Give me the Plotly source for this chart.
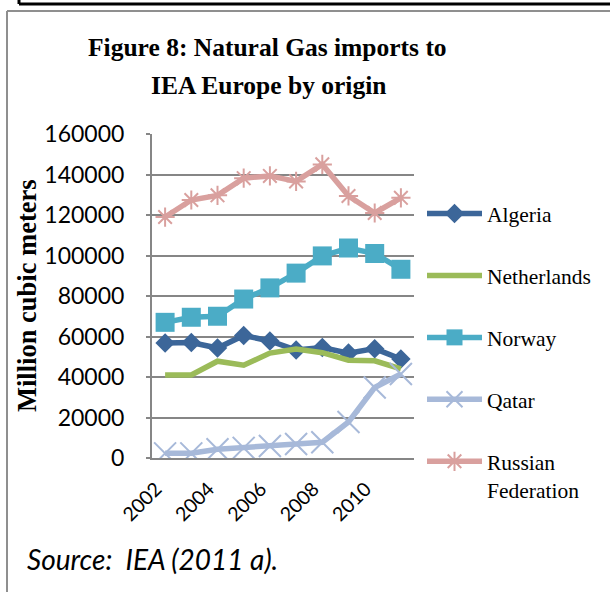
import plotly.graph_objects as go

years = [2002, 2003, 2004, 2005, 2006, 2007, 2008, 2009, 2010, 2011]
tick_years = [2002, 2004, 2006, 2008, 2010]
y_ticks = [0, 20000, 40000, 60000, 80000, 100000, 120000, 140000, 160000]

algeria = [56800, 57000, 54300, 60500, 57800, 53300, 54600, 51800, 54000, 48900]
netherlands = [41000, 41000, 47800, 45800, 51800, 53800, 52000, 48300, 48000, 44000]
norway = [67000, 69500, 70000, 78500, 84000, 91300, 99800, 103700, 101000, 93200]
qatar = [2300, 2300, 4300, 5000, 5900, 6900, 7800, 17800, 34800, 41500]
russia = [119000, 127400, 129700, 138200, 139300, 136600, 145000, 129400, 121000, 128500]

W, H = 610, 592
# plot area in screen pixels
L, R, T, B = 152, 414, 134, 458


def px(x):
    return (x - L) / (R - L)


def py(y):
    return (B - y) / (B - T)


fig = go.Figure()

series = [
    ("Algeria", algeria, "#3C6699", dict(symbol="diamond", size=15, color="#3C6699"), "lines+markers"),
    ("Netherlands", netherlands, "#9BBB59", None, "lines"),
    ("Norway", norway, "#4BACC6", dict(symbol="square", size=19, color="#4BACC6"), "lines+markers"),
    ("Qatar", qatar, "#A7B9D9", dict(symbol="x-thin-open", size=22, color="#A7B9D9",
                                     line=dict(width=2, color="#A7B9D9")), "lines+markers"),
    ("Russian<br>Federation", russia, "#D9A09E", dict(symbol="asterisk-open", size=16, color="#D9A09E",
                                                      line=dict(width=2, color="#D9A09E")), "lines+markers"),
]

for name, vals, col, mk, mode in series:
    kw = dict(x=years, y=vals, name=name, mode=mode, legendgroup=name,
              line=dict(color=col, width=5.5))
    if mk is not None:
        kw["marker"] = mk
    fig.add_trace(go.Scatter(**kw))

axis_col = "#868686"

fig.update_layout(
    width=W, height=H,
    margin=dict(l=L, r=W - R, t=T, b=H - B, pad=0),
    paper_bgcolor="white", plot_bgcolor="white",
    showlegend=True,
    legend=dict(
        x=px(422), y=py(193), xanchor="left", yanchor="top",
        font=dict(family="Liberation Serif", size=21.5, color="black"),
        tracegroupgap=31, valign="top", itemwidth=55,
        bgcolor="rgba(0,0,0,0)", maxheight=500,
    ),
    xaxis=dict(
        range=[2001.5, 2011.5], tickvals=tick_years, ticktext=[str(t) for t in tick_years],
        tickangle=-45, showgrid=False, zeroline=False,
        showline=True, linecolor=axis_col, linewidth=2,
        ticks="", tickfont=dict(family="Lato", size=19.5, color="black"),
        ticklabelstandoff=10, ticklabelshift=-9,
    ),
    yaxis=dict(
        range=[0, 160000], tickvals=y_ticks, tickformat="d",
        showgrid=True, gridcolor=axis_col, gridwidth=1.5, zeroline=False,
        showline=True, linecolor=axis_col, linewidth=2,
        ticks="outside", ticklen=4, tickcolor=axis_col, tickwidth=1.5,
        tickfont=dict(family="Lato", size=23, color="black"),
        ticklabelstandoff=17,
    ),
    annotations=[
        dict(text="<b>Figure 8: Natural Gas imports to</b>", x=px(267), y=py(48), xref="paper", yref="paper",
             xanchor="center", yanchor="middle", showarrow=False,
             font=dict(family="Liberation Serif", size=25.5, color="black")),
        dict(text="<b>IEA Europe by origin</b>", x=px(268), y=py(85), xref="paper", yref="paper",
             xanchor="center", yanchor="middle", showarrow=False,
             font=dict(family="Liberation Serif", size=25.5, color="black")),
        dict(text="<b>Million cubic meters</b>", x=px(27), y=py(296), xref="paper", yref="paper",
             xanchor="center", yanchor="middle", showarrow=False, textangle=-90,
             font=dict(family="Liberation Serif", size=26.5, color="black")),
        dict(text="<i>Source:\u00a0 IEA (2011 a).</i>", x=px(25), y=py(559), xref="paper", yref="paper",
             xanchor="left", yanchor="middle", showarrow=False,
             font=dict(family="Lato", size=28, color="black")),
    ],
    shapes=[
        # outer gray chart border (left and top)
        dict(type="line", xref="paper", yref="paper", x0=px(7), x1=px(7), y0=py(11), y1=py(600),
             line=dict(color="#8F8F8F", width=2)),
        dict(type="line", xref="paper", yref="paper", x0=px(7), x1=px(620), y0=py(11), y1=py(11),
             line=dict(color="#8F8F8F", width=2)),
        # black frame bottom from box above
        dict(type="line", xref="paper", yref="paper", x0=px(19), x1=px(620), y0=py(4), y1=py(4),
             line=dict(color="black", width=3)),
        dict(type="line", xref="paper", yref="paper", x0=px(19), x1=px(19), y0=py(-5), y1=py(4),
             line=dict(color="black", width=3)),
    ],
)

fig.write_html("out.html", config={"displayModeBar": False},
               post_script="document.body.style.margin='0px';")
